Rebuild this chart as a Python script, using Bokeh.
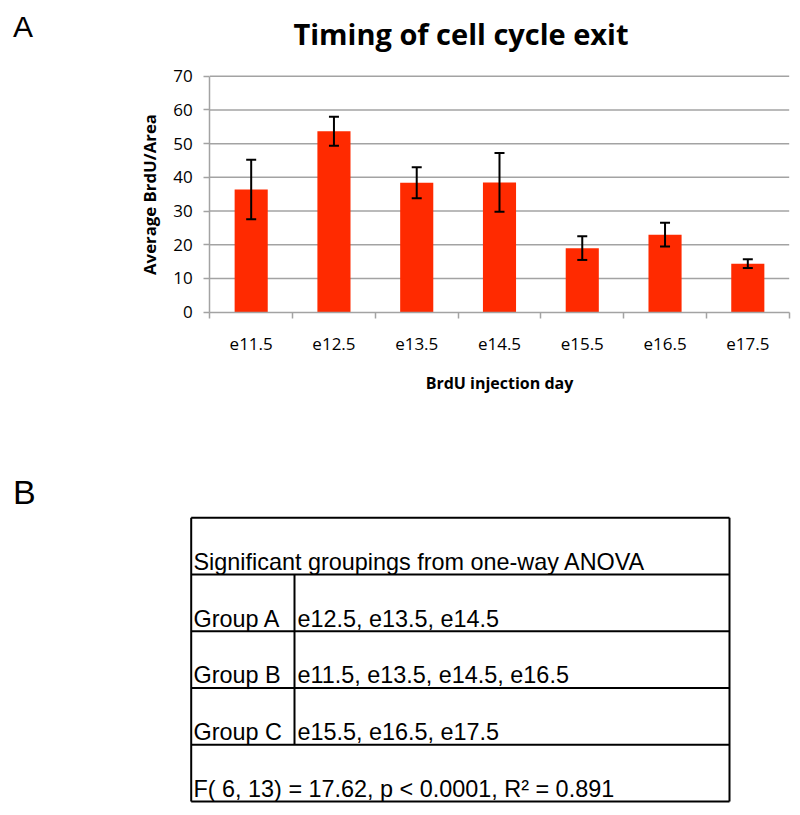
from bokeh.plotting import figure
from bokeh.models import (Range1d, FixedTicker, ColumnDataSource, Whisker, TeeHead,
                          Label, LinearAxis)
from bokeh.embed import file_html
from bokeh.resources import INLINE
from bokeh.core.properties import value

# ---------------- data ----------------
categories = ["e11.5", "e12.5", "e13.5", "e14.5", "e15.5", "e16.5", "e17.5"]
means = [36.4, 53.7, 38.4, 38.5, 19.0, 23.0, 14.4]
errors = [8.8, 4.3, 4.6, 8.7, 3.5, 3.5, 1.3]
y_ticks = [0, 10, 20, 30, 40, 50, 60, 70]

title_text = "Timing of cell cycle exit"
y_label = "Average BrdU/Area"
x_label = "BrdU injection day"
panel_a = "A"
panel_b = "B"

table_header = "Significant groupings from one-way ANOVA"
group_names = ["Group A", "Group B", "Group C"]
group_members = ["e12.5, e13.5, e14.5", "e11.5, e13.5, e14.5, e16.5", "e15.5, e16.5, e17.5"]
anova_stats = "F( 6, 13) = 17.62, p < 0.0001, R\u00b2 = 0.891"

# ---------------- layout constants (pixels) ----------------
W, H = 792, 807
X_ORIGIN, CAT_PX = 209.3, 82.77      # left of plot area, width of one category
Y_ORIGIN, VAL_PX = 311.7, 3.3714     # y of value 0, pixels per unit
T_TOP, ROW_PX = 517.3, 56.74         # table top, row height
T_LEFT, T_RIGHT, T_DIV = 190.7, 729.0, 294.0

BAR = "#ff2a00"
GRAY = "#a3a3a3"

p = figure(width=W, height=H,
           x_range=Range1d(-X_ORIGIN / CAT_PX, (W - X_ORIGIN) / CAT_PX),
           y_range=Range1d((Y_ORIGIN - H) / VAL_PX, Y_ORIGIN / VAL_PX),
           x_axis_location=None, y_axis_location=None, min_border=0,
           output_backend="svg", toolbar_location=None)
p.grid.visible = False
p.outline_line_color = None
p.background_fill_color = "white"
p.extra_x_ranges = {"px": Range1d(0, W)}
p.extra_y_ranges = {"py": Range1d(H, 0),
                    "row": Range1d((H - T_TOP) / ROW_PX, -T_TOP / ROW_PX)}

# ---------------- chart (panel A) ----------------
n_cat = len(categories)
xs = [i + 0.5 for i in range(n_cat)]
src = ColumnDataSource(dict(
    x=xs, top=means,
    upper=[m + e for m, e in zip(means, errors)],
    lower=[m - e for m, e in zip(means, errors)],
))

# horizontal gridlines
p.segment(x0=0, x1=n_cat, y0=y_ticks[1:], y1=y_ticks[1:],
          line_color=GRAY, line_width=1.5)

p.vbar(x="x", top="top", width=0.4, source=src, fill_color=BAR, line_color=None)
p.add_layout(Whisker(base="x", upper="upper", lower="lower", source=src,
                     line_color="black", line_width=2, level="overlay",
                     upper_head=TeeHead(size=10, line_width=2, line_color="black"),
                     lower_head=TeeHead(size=10, line_width=2, line_color="black")))

xaxis = LinearAxis(fixed_location=0, bounds=(0, n_cat),
                   ticker=FixedTicker(ticks=xs, minor_ticks=list(range(n_cat + 1))),
                   major_label_overrides={x: c for x, c in zip(xs, categories)},
                   major_tick_out=0, major_tick_in=0,
                   minor_tick_out=6, minor_tick_in=0,
                   minor_tick_line_color=GRAY, minor_tick_line_width=1.5,
                   axis_line_color=GRAY, axis_line_width=1.5,
                   major_label_standoff=20,
                   major_label_text_font="Open Sans",
                   major_label_text_font_size="17px",
                   major_label_text_color="black",
                   axis_label=x_label, axis_label_text_font="Open Sans",
                   axis_label_text_font_style="bold",
                   axis_label_text_font_size="16px",
                   axis_label_text_color="black",
                   axis_label_standoff=18)
p.add_layout(xaxis, "below")

yaxis = LinearAxis(fixed_location=0, bounds=(y_ticks[0], y_ticks[-1]),
                   ticker=FixedTicker(ticks=y_ticks),
                   major_tick_out=6, major_tick_in=0,
                   major_tick_line_color=GRAY, major_tick_line_width=1.5,
                   minor_tick_line_color=None,
                   axis_line_color=GRAY, axis_line_width=1.5,
                   major_label_standoff=11,
                   major_label_text_font="Open Sans",
                   major_label_text_font_size="17px",
                   major_label_text_color="black",
                   axis_label=y_label, axis_label_text_font="Open Sans",
                   axis_label_text_font_style="bold",
                   axis_label_text_font_size="16.8px",
                   axis_label_text_color="black",
                   axis_label_standoff=9)
p.add_layout(yaxis, "left")

p.add_layout(Label(x=460.5, y=33.0, x_range_name="px", y_range_name="py",
                   text=title_text, text_align="center", text_baseline="alphabetic",
                   text_font="Open Sans", text_font_style="bold",
                   text_font_size="29px", text_color="black"))
p.add_layout(Label(x=12.5, y=26.2, x_range_name="px", y_range_name="py",
                   text=panel_a, text_align="left", text_baseline="alphabetic",
                   text_font="Liberation Sans", text_font_size="30px",
                   text_color="black"))

# ---------------- table (panel B) ----------------
n_rows = len(group_names) + 2
row_lines = list(range(n_rows + 1))
p.segment(x0=T_LEFT, x1=T_RIGHT, y0=row_lines, y1=row_lines,
          x_range_name="px", y_range_name="row", line_color="black", line_width=2)
p.segment(x0=[T_LEFT, T_RIGHT, T_DIV], x1=[T_LEFT, T_RIGHT, T_DIV],
          y0=[0, 0, 1], y1=[n_rows, n_rows, n_rows - 1],
          x_range_name="px", y_range_name="row", line_color="black", line_width=2)

off = 0.225
tkw = dict(x_range_name="px", y_range_name="row",
           text_font=value("Liberation Sans"), text_font_size="23.4px",
           text_baseline="alphabetic", text_align="left", text_color="black")
p.text(x=[T_LEFT + 2.3] * 2, y=[1 - off, n_rows - off],
       text=[table_header, anova_stats], **tkw)
grp_y = [i + 2 - off for i in range(len(group_names))]
p.text(x=[T_LEFT + 2.3] * len(group_names), y=grp_y, text=group_names, **tkw)
p.text(x=[T_DIV + 3] * len(group_members), y=grp_y, text=group_members, **tkw)

p.add_layout(Label(x=12.5, y=491.2, x_range_name="px", y_range_name="py",
                   text=panel_b, text_align="left", text_baseline="alphabetic",
                   text_font="Liberation Sans", text_font_size="34px",
                   text_color="black"))

open("out.html", "w").write(file_html(p, INLINE))
